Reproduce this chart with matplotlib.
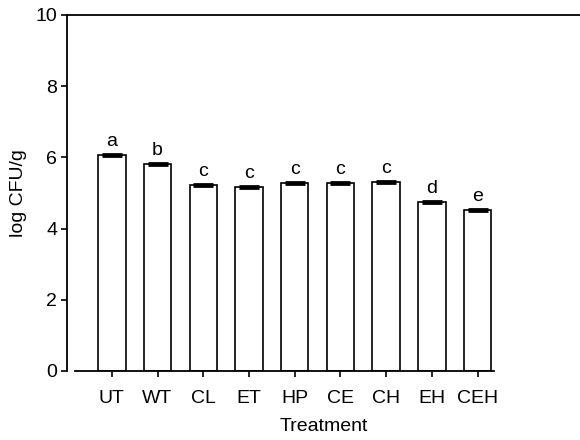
import matplotlib
matplotlib.use("Agg")
import matplotlib.pyplot as plt
import numpy as np

plt.rcParams['font.family'] = ['Liberation Sans', 'DejaVu Sans']

treatments = ["UT", "WT", "CL", "ET", "HP", "CE", "CH", "EH", "CEH"]
log_cfu = [6.07, 5.81, 5.22, 5.17, 5.28, 5.28, 5.31, 4.75, 4.52]
errors = [0.03, 0.03, 0.03, 0.03, 0.03, 0.03, 0.03, 0.03, 0.03]
letters = ["a", "b", "c", "c", "c", "c", "c", "d", "e"]

fig = plt.figure(figsize=(5.8, 4.4), dpi=100)
ax = fig.add_axes([0.1155, 0.157, 0.8845, 0.809])

x = np.arange(len(treatments))
ax.bar(x, log_cfu, width=0.6, color="white", edgecolor="black", linewidth=1.2, zorder=2)
ax.errorbar(x, log_cfu, yerr=errors, fmt="none", ecolor="black", elinewidth=2.0,
            capsize=7, capthick=2.0, zorder=3)
for xi, v, e, lab in zip(x, log_cfu, errors, letters):
    ax.text(xi, v + e + 0.1, lab, ha="center", va="bottom", fontsize=14)

ax.set_xlim(-0.98, 10.24)
ax.set_ylim(0, 10)
ax.set_yticks([0, 2, 4, 6, 8, 10])
ax.set_xticks(x)
ax.set_xticklabels(treatments)
ax.spines["right"].set_visible(False)
ax.spines["bottom"].set_bounds(-0.8, 8.35)
for s in ["left", "top", "bottom"]:
    ax.spines[s].set_linewidth(1.3)
ax.tick_params(axis="both", direction="out", labelsize=14, width=1.2, length=4)
ax.tick_params(axis="y", pad=3)
ax.tick_params(axis="x", pad=10)
ax.set_xlabel("Treatment", fontsize=14, labelpad=8)
ax.set_ylabel("log CFU/g", fontsize=14, labelpad=6)

fig.savefig("out.png", dpi=100)
